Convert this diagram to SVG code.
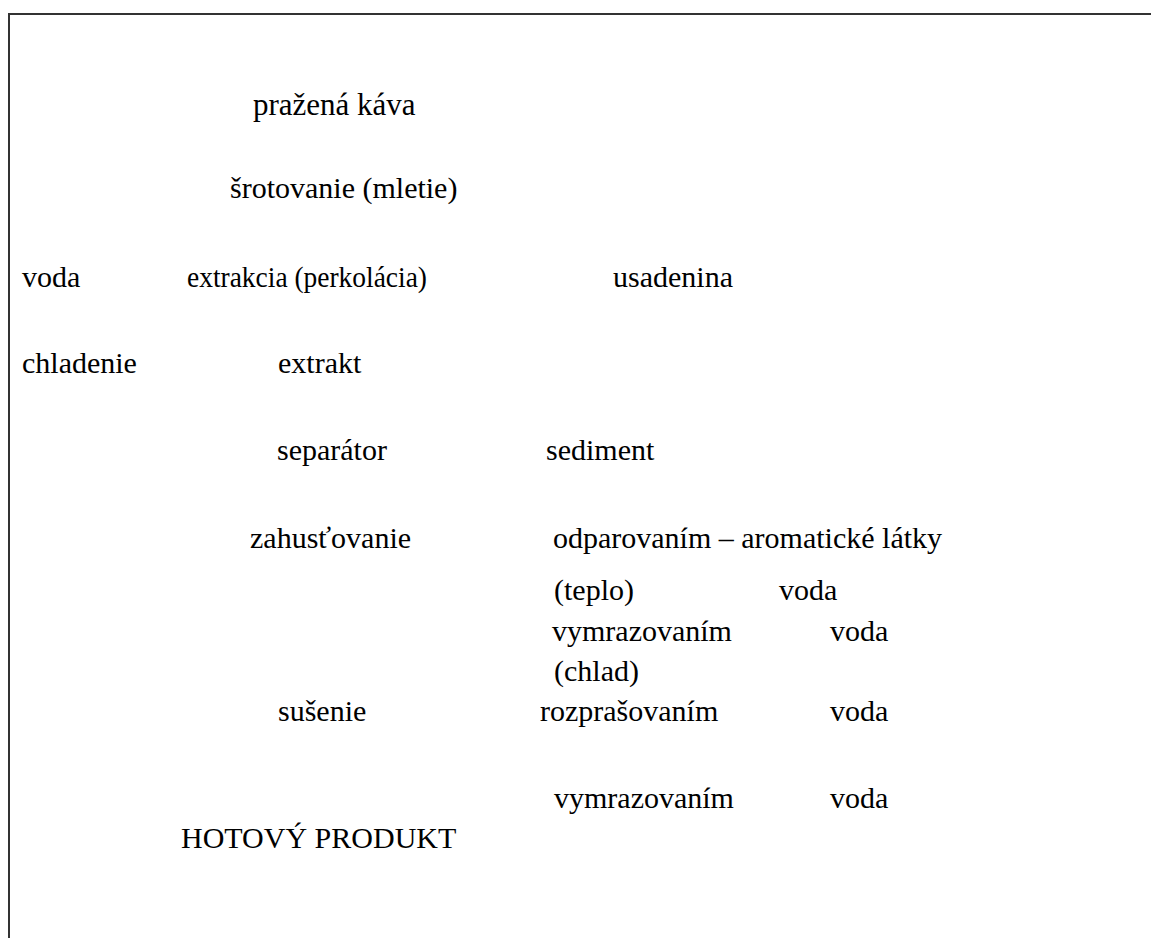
<svg xmlns="http://www.w3.org/2000/svg" width="1151" height="938" viewBox="0 0 1151 938">
<style>
.frame { stroke: #333; stroke-width: 2; fill: none; }
</style>
<rect x="0" y="0" width="1151" height="938" fill="#fff"/>
<path class="frame" d="M9,940 V14 H1152"/>
<g id="n-prazena"><text font-family="Liberation Serif" font-size="31" x="253" y="115">pražená káva</text></g>
<g id="n-srotovanie"><text font-family="Liberation Serif" font-size="30" x="230" y="198">šrotovanie (mletie)</text></g>
<g id="n-voda1"><text font-family="Liberation Serif" font-size="30" x="22" y="287">voda</text></g>
<g id="n-extrakcia"><text font-family="Liberation Serif" font-size="30" x="187" y="287" textLength="240" lengthAdjust="spacingAndGlyphs">extrakcia (perkolácia)</text></g>
<g id="n-usadenina"><text font-family="Liberation Serif" font-size="30" x="613" y="287">usadenina</text></g>
<g id="n-chladenie"><text font-family="Liberation Serif" font-size="30" x="22" y="373">chladenie</text></g>
<g id="n-extrakt"><text font-family="Liberation Serif" font-size="30" x="278" y="373">extrakt</text></g>
<g id="n-separator"><text font-family="Liberation Serif" font-size="30" x="277" y="460">separátor</text></g>
<g id="n-sediment"><text font-family="Liberation Serif" font-size="30" x="546" y="460">sediment</text></g>
<g id="n-zahustovanie"><text font-family="Liberation Serif" font-size="30" x="250" y="548">zahusťovanie</text></g>
<g id="n-odparovanim"><text font-family="Liberation Serif" font-size="30" x="553" y="548">odparovaním – aromatické látky</text></g>
<g id="n-teplo"><text font-family="Liberation Serif" font-size="30" x="554" y="600">(teplo)</text><text font-family="Liberation Serif" font-size="30" x="779" y="600">voda</text></g>
<g id="n-vymraz1"><text font-family="Liberation Serif" font-size="30" x="552" y="641">vymrazovaním</text><text font-family="Liberation Serif" font-size="30" x="830" y="641">voda</text></g>
<g id="n-chlad"><text font-family="Liberation Serif" font-size="30" x="554" y="681">(chlad)</text></g>
<g id="n-susenie"><text font-family="Liberation Serif" font-size="30" x="278" y="721">sušenie</text></g>
<g id="n-rozpras"><text font-family="Liberation Serif" font-size="30" x="540" y="721">rozprašovaním</text><text font-family="Liberation Serif" font-size="30" x="830" y="721">voda</text></g>
<g id="n-vymraz2"><text font-family="Liberation Serif" font-size="30" x="554" y="808">vymrazovaním</text><text font-family="Liberation Serif" font-size="30" x="830" y="808">voda</text></g>
<g id="n-hotovy"><text font-family="Liberation Serif" font-size="30" x="181" y="848">HOTOVÝ PRODUKT</text></g>
<g id="connectors"></g>
</svg>
